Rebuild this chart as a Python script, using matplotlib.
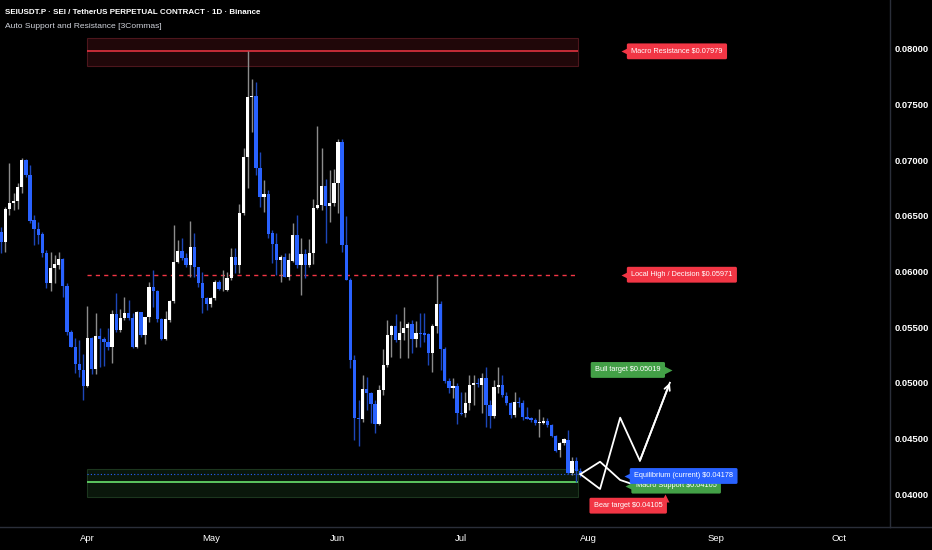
import numpy as np
import matplotlib
matplotlib.use("Agg")
import matplotlib.pyplot as plt
from matplotlib.patches import Rectangle

plt.rcParams['font.family'] = ['Liberation Sans', 'DejaVu Sans']

# daily candles, first one is 11 Mar (day -21 counted from 1 Apr)
first_day = -21

opens = [
    0.06358, 0.06268, 0.06559, 0.06613, 0.06636, 0.06762, 0.07002, 0.06867, 0.06463, 0.06382,
    0.06334, 0.06169, 0.05899, 0.06029, 0.06058, 0.06110, 0.05870, 0.05459, 0.05324, 0.05168,
    0.05115, 0.04971, 0.05399, 0.05121, 0.05420, 0.05390, 0.05369, 0.05324, 0.05618, 0.05474,
    0.05585, 0.05624, 0.05585, 0.05319, 0.05633, 0.05429, 0.05594, 0.05863, 0.05827, 0.05570,
    0.05390, 0.05564, 0.05738, 0.06088, 0.06184, 0.06119, 0.06058, 0.06217, 0.06038, 0.05894,
    0.05759, 0.05708, 0.05759, 0.05903, 0.05840, 0.05834, 0.05939, 0.06133, 0.06058, 0.06529,
    0.07032, 0.07566, 0.07578, 0.06928, 0.06667, 0.06697, 0.06343, 0.06244, 0.06103, 0.06133,
    0.05953, 0.06097, 0.06328, 0.06058, 0.06155, 0.06058, 0.06169, 0.06568, 0.06598, 0.06771,
    0.06589, 0.06613, 0.06793, 0.07167, 0.06238, 0.05924, 0.05204, 0.04686, 0.04671, 0.04944,
    0.04911, 0.04809, 0.04629, 0.04935, 0.05160, 0.05429, 0.05513, 0.05384, 0.05450, 0.05495,
    0.05528, 0.05393, 0.05450, 0.05444, 0.05438, 0.05265, 0.05513, 0.05708, 0.05301, 0.05018,
    0.04950, 0.04973, 0.04731, 0.04725, 0.04815, 0.04980, 0.04998, 0.04980, 0.05040, 0.04800,
    0.04701, 0.04959, 0.04980, 0.04881, 0.04821, 0.04710, 0.04830, 0.04821, 0.04689, 0.04680,
    0.04665, 0.04635, 0.04641, 0.04659, 0.04620, 0.04521, 0.04395, 0.04456, 0.04485, 0.04186,
    0.04299, 0.04205]

highs = [
    0.06403, 0.06582, 0.06973, 0.06708, 0.06793, 0.07018, 0.07009, 0.06957, 0.06508, 0.06448,
    0.06358, 0.06193, 0.06178, 0.06148, 0.06178, 0.06119, 0.05894, 0.05474, 0.05399, 0.05384,
    0.05258, 0.05690, 0.05414, 0.05624, 0.05489, 0.05414, 0.05489, 0.05654, 0.05804, 0.05660,
    0.05773, 0.05744, 0.05624, 0.05648, 0.05639, 0.05594, 0.05908, 0.06013, 0.05834, 0.05579,
    0.05648, 0.05744, 0.06418, 0.06283, 0.06298, 0.06164, 0.06454, 0.06343, 0.06043, 0.05998,
    0.05773, 0.05773, 0.05924, 0.05924, 0.06013, 0.05998, 0.06209, 0.06209, 0.06604, 0.07107,
    0.07979, 0.07728, 0.07706, 0.07077, 0.06822, 0.06733, 0.06373, 0.06349, 0.06148, 0.06164,
    0.06164, 0.06439, 0.06508, 0.06298, 0.06200, 0.06289, 0.06649, 0.07308, 0.07107, 0.06829,
    0.06912, 0.06919, 0.07188, 0.07188, 0.06499, 0.05939, 0.05249, 0.04845, 0.05070, 0.05049,
    0.04920, 0.04845, 0.04980, 0.05301, 0.05564, 0.05519, 0.05615, 0.05558, 0.05684, 0.05549,
    0.05564, 0.05555, 0.05630, 0.05630, 0.05444, 0.05528, 0.05971, 0.05738, 0.05319, 0.05040,
    0.05040, 0.04995, 0.04920, 0.04920, 0.05070, 0.05070, 0.05043, 0.05090, 0.05144, 0.04845,
    0.05025, 0.05144, 0.05070, 0.04920, 0.04830, 0.04920, 0.04875, 0.04845, 0.04785, 0.04689,
    0.04680, 0.04761, 0.04695, 0.04680, 0.04629, 0.04530, 0.04470, 0.04501, 0.04575, 0.04330,
    0.04330, 0.04230]

lows = [
    0.06164, 0.06178, 0.06508, 0.06553, 0.06559, 0.06703, 0.06852, 0.06433, 0.06238, 0.06247,
    0.06133, 0.05849, 0.05827, 0.05899, 0.06020, 0.05773, 0.05429, 0.05319, 0.05085, 0.05054,
    0.04845, 0.04964, 0.05079, 0.05079, 0.05144, 0.05150, 0.05294, 0.05175, 0.05459, 0.05459,
    0.05564, 0.05564, 0.05310, 0.05310, 0.05414, 0.05348, 0.05549, 0.05684, 0.05549, 0.05384,
    0.05384, 0.05549, 0.05714, 0.06074, 0.06103, 0.06043, 0.05953, 0.05953, 0.05863, 0.05624,
    0.05654, 0.05684, 0.05744, 0.05834, 0.05827, 0.05827, 0.05924, 0.05984, 0.05984, 0.06508,
    0.06748, 0.07257, 0.06867, 0.06582, 0.06538, 0.06298, 0.06079, 0.05969, 0.05908, 0.05948,
    0.05924, 0.06088, 0.06029, 0.05789, 0.05939, 0.06043, 0.06067, 0.06560, 0.06553, 0.06259,
    0.06448, 0.06589, 0.06523, 0.06178, 0.05920, 0.05130, 0.04485, 0.04431, 0.04650, 0.04755,
    0.04635, 0.04546, 0.04620, 0.04890, 0.05144, 0.05229, 0.05369, 0.05220, 0.05384, 0.05225,
    0.05265, 0.05319, 0.05324, 0.05369, 0.05160, 0.05099, 0.05444, 0.05115, 0.04995, 0.04905,
    0.04860, 0.04629, 0.04710, 0.04695, 0.04755, 0.04800, 0.04962, 0.04725, 0.04605, 0.04591,
    0.04680, 0.04905, 0.04875, 0.04800, 0.04680, 0.04695, 0.04785, 0.04665, 0.04671, 0.04650,
    0.04620, 0.04515, 0.04629, 0.04605, 0.04515, 0.04380, 0.04335, 0.04440, 0.04180, 0.04171,
    0.04110, 0.04150]

closes = [
    0.06268, 0.06559, 0.06613, 0.06636, 0.06762, 0.07002, 0.06867, 0.06457, 0.06382, 0.06328,
    0.06164, 0.05899, 0.06029, 0.06065, 0.06110, 0.05870, 0.05459, 0.05324, 0.05168, 0.05115,
    0.04971, 0.05399, 0.05121, 0.05420, 0.05390, 0.05369, 0.05324, 0.05618, 0.05474, 0.05579,
    0.05627, 0.05579, 0.05319, 0.05633, 0.05429, 0.05594, 0.05863, 0.05827, 0.05570, 0.05390,
    0.05570, 0.05738, 0.06088, 0.06184, 0.06119, 0.06058, 0.06217, 0.06043, 0.05894, 0.05759,
    0.05708, 0.05759, 0.05903, 0.05840, 0.05843, 0.05939, 0.06133, 0.06058, 0.06529, 0.07032,
    0.07571, 0.07574, 0.06928, 0.06667, 0.06697, 0.06337, 0.06244, 0.06103, 0.06133, 0.05953,
    0.06103, 0.06328, 0.06058, 0.06155, 0.06058, 0.06169, 0.06568, 0.06598, 0.06771, 0.06589,
    0.06613, 0.06793, 0.07167, 0.06238, 0.05924, 0.05204, 0.04686, 0.04671, 0.04944, 0.04911,
    0.04809, 0.04629, 0.04935, 0.05160, 0.05429, 0.05513, 0.05384, 0.05450, 0.05495, 0.05528,
    0.05393, 0.05444, 0.05438, 0.05429, 0.05265, 0.05513, 0.05708, 0.05301, 0.05018, 0.04950,
    0.04973, 0.04725, 0.04716, 0.04815, 0.04980, 0.04998, 0.04986, 0.05040, 0.04800, 0.04701,
    0.04964, 0.04980, 0.04890, 0.04815, 0.04710, 0.04830, 0.04815, 0.04689, 0.04677, 0.04665,
    0.04635, 0.04650, 0.04659, 0.04620, 0.04521, 0.04389, 0.04456, 0.04492, 0.04191, 0.04299,
    0.04205, 0.04178]

# levels from the indicator
macro_resistance = 0.07979
resistance_zone = (0.07847, 0.08099)
local_high = 0.05971
equilibrium = 0.04178
macro_support = 0.04105
support_zone = (0.03973, 0.04225)
bull_target = 0.05019
bear_target = 0.04105
zone_start, zone_end = 0, 119.5

# projected paths (days from 1 Apr, price)
bull_days = [120, 124.8, 129.7, 134.5, 141.8]
bull_prices = [0.04178, 0.04045, 0.04686, 0.04299, 0.05000]
bear_days = [120, 124.8, 129.7, 133.0]
bear_prices = [0.04178, 0.04290, 0.04126, 0.04085]

month_days = [0, 30, 61, 91, 122, 153, 183]
month_labels = ['Apr', 'May', 'Jun', 'Jul', 'Aug', 'Sep', 'Oct']
price_ticks = [0.040, 0.045, 0.050, 0.055, 0.060, 0.065, 0.070, 0.075, 0.080]

RED = '#f23645'
GREEN = '#43a047'
BLUE = '#2962ff'
GRID = '#2a2e39'

fig = plt.figure(figsize=(9.32, 5.5), dpi=100, facecolor='black')
ax = fig.add_axes([0, 1 - 527 / 550, 890 / 932, 527 / 550])
ax.set_facecolor('black')

o = np.array(opens)
h = np.array(highs)
l = np.array(lows)
c = np.array(closes)
days = np.arange(len(o)) + first_day
up = c >= o

wick_cols = ['#8c8c8c' if u else '#1d47b8' for u in up]
body_cols = ['#ffffff' if u else BLUE for u in up]
ax.vlines(days, l, h, colors=wick_cols, lw=1.0, zorder=3)
ax.bar(days, np.maximum(np.abs(c - o), 0.00003), bottom=np.minimum(o, c),
       width=0.8, color=body_cols, lw=0, zorder=4)

# zones and levels
ax.add_patch(Rectangle((zone_start, resistance_zone[0]), zone_end - zone_start,
                       resistance_zone[1] - resistance_zone[0],
                       fc='#200709', ec='#4d161c', lw=0.8, zorder=1))
ax.add_patch(Rectangle((zone_start, support_zone[0]), zone_end - zone_start,
                       support_zone[1] - support_zone[0],
                       fc='#0a170b', ec='#1c361e', lw=0.8, zorder=1))
ax.hlines(macro_resistance, zone_start, zone_end, color=RED, lw=1.1, zorder=2)
ax.hlines(local_high, zone_start, zone_end, color=RED, lw=1.0,
          linestyles=(0, (3, 3)), zorder=2)
ax.hlines(macro_support, zone_start, zone_end, color='#5cc560', lw=1.4, zorder=2)
ax.hlines(equilibrium, zone_start, zone_end, color=BLUE, lw=0.8,
          linestyles=(0, (1, 2)), zorder=2)

# projections
ax.plot(bull_days, bull_prices, color='white', lw=1.3, zorder=5)
ax.annotate('', xy=(bull_days[-1], bull_prices[-1]), xytext=(bull_days[-2], bull_prices[-2]),
            arrowprops=dict(arrowstyle='->', color='white', lw=1.3, mutation_scale=10,
                            shrinkA=0, shrinkB=0), zorder=5)
ax.plot(bear_days, bear_prices, color='white', lw=1.3, zorder=5)


def tag(x, y, text, color, side, tip_x, tip_y=None):
    ax.text(x, y, text, color='white', fontsize=5.3, ha='left', va='center', zorder=8,
            bbox=dict(boxstyle='round,pad=0.6,rounding_size=0.2', fc=color, ec='none'))
    ax.plot(tip_x, y if tip_y is None else tip_y, marker=side, color=color,
            markersize=6, mec='none', zorder=7)


tag(132.4, macro_resistance, 'Macro Resistance \\$%.5f' % macro_resistance, RED, '<', 130.9)
tag(132.4, local_high, 'Local High / Decision \\$%.5f' % local_high, RED, '<', 130.9)
tag(123.6, bull_target + 0.00096, 'Bull target \\$%.5f' % bull_target, GREEN, '>', 141.4)
tag(133.5, macro_support - 0.0003, 'Macro Support \\$%.5f' % macro_support, GREEN, '<', 131.9)
tag(133.1, equilibrium - 0.00016, 'Equilibrium (current) \\$%.5f' % equilibrium, BLUE, '<', 131.6)
tag(123.3, bear_target - 0.0021, 'Bear target \\$%.5f' % bear_target, RED, '^', 140.6,
    bear_target - 0.0014)

ax.set_xlim(-21.3, 195.4)
ax.set_ylim(0.037034, 0.084404)

ax.yaxis.tick_right()
ax.set_yticks(price_ticks)
ax.set_yticklabels(['%.5f' % p for p in price_ticks])
ax.tick_params(axis='y', length=0, pad=3, labelsize=6.8, labelcolor='#ffffff')
for lbl in ax.get_yticklabels():
    lbl.set_fontweight('bold')
ax.set_xticks(month_days)
ax.set_xticklabels(month_labels)
ax.tick_params(axis='x', length=0, pad=5, labelsize=6.8, labelcolor='#ffffff')

for s in ['top', 'left']:
    ax.spines[s].set_visible(False)
for s in ['right', 'bottom']:
    ax.spines[s].set_color(GRID)
    ax.spines[s].set_linewidth(1)
fig.add_artist(plt.Line2D([890 / 932, 1], [1 - 527 / 550] * 2, transform=fig.transFigure,
                          color=GRID, lw=1))

fig.text(5 / 932, 1 - 13 / 550, 'SEIUSDT.P · SEI / TetherUS PERPETUAL CONTRACT · 1D · Binance',
         color='white', fontsize=5.8, fontweight='bold', va='center', ha='left')
fig.text(5 / 932, 1 - 27 / 550, 'Auto Support and Resistance [3Commas]',
         color='#d1d4dc', fontsize=6.1, va='center', ha='left')

fig.savefig('out.png', dpi=100, facecolor='black')
